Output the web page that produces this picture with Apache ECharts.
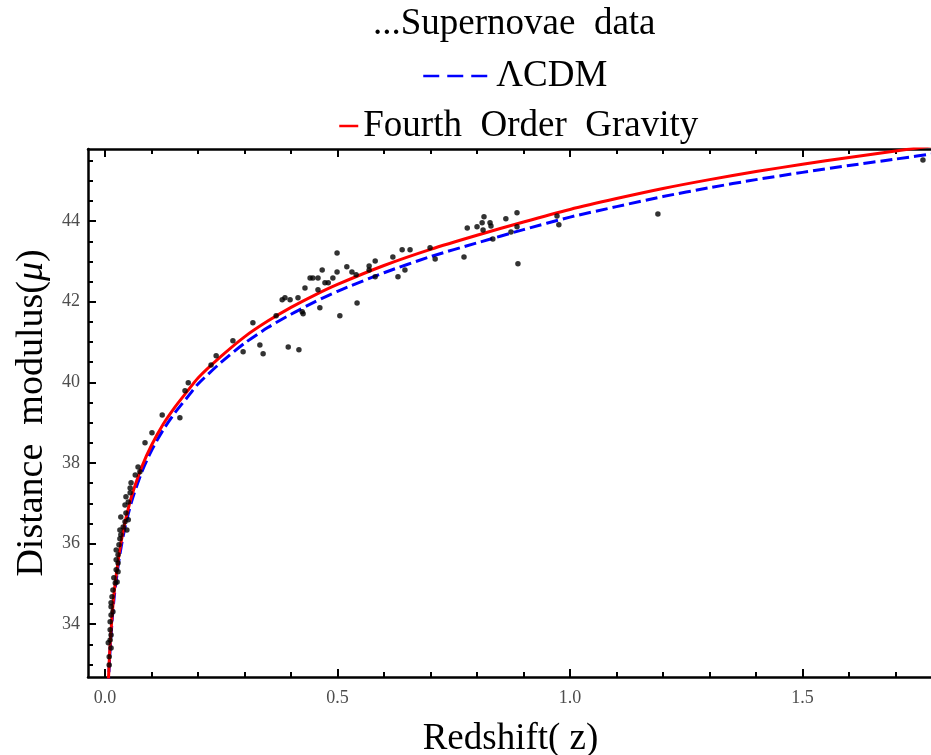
<!DOCTYPE html>
<html><head><meta charset="utf-8">
<script src="https://cdn.jsdelivr.net/npm/echarts@6/dist/echarts.min.js"></script>
<style>html,body{margin:0;padding:0;background:#fff}#c{width:931px;height:755px}</style>
</head><body><div id="c"></div>
<script>
// ---- data ----
const curveZ = [0.007,0.01,0.015,0.02,0.03,0.04,0.05,0.06,0.08,0.1,0.125,0.15,0.175,0.2,0.25,0.3,0.35,0.4,0.45,0.5,0.6,0.7,0.8,0.9,1.0,1.1,1.2,1.3,1.4,1.5,1.6,1.7,1.8];
const lcdmMu = [32.39,33.18,34.05,34.70,35.59,36.24,36.74,37.15,37.80,38.31,38.82,39.24,39.60,39.96,40.50,40.97,41.36,41.69,41.99,42.26,42.72,43.12,43.46,43.79,44.10,44.36,44.61,44.83,45.03,45.21,45.38,45.54,45.70];
const fogMu  = [32.52,33.31,34.18,34.83,35.72,36.37,36.87,37.28,37.93,38.44,38.96,39.38,39.75,40.11,40.65,41.13,41.52,41.86,42.16,42.43,42.90,43.30,43.65,43.98,44.29,44.56,44.81,45.03,45.23,45.41,45.58,45.74,45.90];
const snZ = [0.009,0.009,0.013,0.007,0.011,0.013,0.011,0.011,0.013,0.017,0.013,0.013,0.015,0.017,0.022,0.026,0.019,0.028,0.024,0.028,0.024,0.028,0.024,0.030,0.032,0.034,0.032,0.047,0.039,0.043,0.050,0.034,0.045,0.043,0.050,0.045,0.054,0.054,0.056,0.065,0.075,0.071,0.086,0.101,0.123,0.161,0.172,0.179,0.228,0.239,0.275,0.297,0.318,0.333,0.340,0.368,0.381,0.387,0.398,0.394,0.417,0.415,0.424,0.426,0.430,0.441,0.447,0.458,0.458,0.462,0.467,0.473,0.480,0.490,0.499,0.499,0.505,0.520,0.531,0.540,0.542,0.568,0.568,0.581,0.581,0.619,0.630,0.639,0.645,0.656,0.699,0.710,0.772,0.779,0.800,0.811,0.815,0.813,0.828,0.830,0.834,0.862,0.873,0.886,0.886,0.888,0.972,0.976,1.189,1.759];
const snMu = [32.99,33.19,33.41,33.54,33.61,33.73,33.86,34.06,34.23,34.31,34.43,34.53,34.68,34.85,35.02,35.05,35.15,35.30,35.35,35.52,35.60,35.72,35.84,35.97,36.12,36.22,36.34,36.34,36.41,36.54,36.59,36.66,36.76,36.96,37.03,37.16,37.26,37.38,37.51,37.70,37.78,37.90,38.50,38.75,39.19,39.12,39.79,39.99,40.43,40.66,41.03,40.76,41.48,40.93,40.71,41.65,42.05,42.10,42.05,40.88,40.81,42.10,41.75,41.70,42.34,42.59,42.59,42.59,42.30,41.85,42.79,42.47,42.47,42.59,42.74,43.21,41.65,42.87,42.74,42.67,41.97,42.89,42.79,43.01,42.62,43.11,42.62,43.29,42.79,43.29,43.34,43.06,43.11,43.83,43.86,43.96,44.11,43.78,43.96,43.88,43.56,44.06,43.73,44.21,43.86,42.94,44.13,43.91,44.18,45.52];
const xTickLabels = [0, 0.5, 1.0, 1.5];
const yTickLabels = [34, 36, 38, 40, 42, 44];

// ---- build ----
const X_MIN = -0.0366, X_MAX = 1.7806, Y_MIN = 32.69, Y_MAX = 45.79;
const xMinor = []; for (let i = 0; i <= 17; i++) xMinor.push(+(i * 0.1).toFixed(1));
const yMinor = []; for (let v = 33; v <= 45.5; v += 0.5) yMinor.push(v);
const serif = 'Liberation Serif';
const lineCol = '#000';

function xAx(pos, ticks, len, withLabel, showLine) {
  return {
    type: 'value', position: pos, min: X_MIN, max: X_MAX,
    axisLine: { show: showLine, onZero: false, lineStyle: { color: lineCol, width: 2.5 } },
    axisTick: { show: true, inside: true, length: len, customValues: ticks, lineStyle: { color: lineCol, width: 2 } },
    axisLabel: withLabel ? { show: true, customValues: xTickLabels, formatter: v => v.toFixed(1), margin: 12, fontFamily: serif, fontSize: 18, color: '#4d4d4d' } : { show: false },
    splitLine: { show: false }
  };
}
function yAx(pos, ticks, len, withLabel, showLine) {
  return {
    type: 'value', position: pos, min: Y_MIN, max: Y_MAX,
    axisLine: { show: showLine, onZero: false, lineStyle: { color: lineCol, width: 2.5 } },
    axisTick: { show: true, inside: true, length: len, customValues: ticks, lineStyle: { color: lineCol, width: 2 } },
    axisLabel: withLabel ? { show: true, customValues: yTickLabels, margin: 8, fontFamily: serif, fontSize: 18, color: '#4d4d4d' } : { show: false },
    splitLine: { show: false }
  };
}

const nameFont = { fontFamily: serif, fontSize: 38, color: '#000' };
const xMain = xAx('bottom', xTickLabels, 8, true, true);
xMain.name = 'Redshift( z)'; xMain.nameLocation = 'middle'; xMain.nameGap = 44;
xMain.nameTextStyle = Object.assign({}, nameFont, { fontSize: 37 });
const yMain = yAx('left', yTickLabels, 8, true, true);
yMain.name = '{a|Distance  modulus(}{b|\u03BC}{a|)}'; yMain.nameLocation = 'middle'; yMain.nameGap = 36;
yMain.nameTextStyle = Object.assign({}, nameFont, { rich: { a: Object.assign({}, nameFont), b: Object.assign({}, nameFont, { fontStyle: 'italic' }) } });

const legendText = { fontFamily: serif, fontSize: 37, color: '#000', lineHeight: 42 };
const noSym = { color: 'rgba(0,0,0,0)', borderColor: 'rgba(0,0,0,0)', borderWidth: 0, opacity: 0 };

const option = {
  backgroundColor: '#fff',
  animation: false,
  grid: { left: 88, top: 149, width: 845, height: 528, containLabel: false, outerBoundsMode: 'none' },
  xAxis: [xMain, xAx('bottom', xMinor, 5, false, false), xAx('top', xTickLabels, 8, false, true), xAx('top', xMinor, 5, false, false)],
  yAxis: [yMain, yAx('left', yMinor, 5, false, false)],
  legend: [
    { data: ['Supernovae data'], left: 368, top: 3, padding: 0, icon: 'none', itemWidth: 0, itemHeight: 10,
      formatter: () => '...Supernovae  data', textStyle: legendText, selectedMode: false },
    { data: ['\u039BCDM'], left: 422, top: 55, padding: 0, itemWidth: 68, itemHeight: 14, itemStyle: noSym,
      lineStyle: { type: [16, 8], width: 2.5 }, textStyle: legendText, selectedMode: false },
    { data: ['Fourth Order Gravity'], left: 338, top: 105, padding: 0, itemWidth: 19, itemHeight: 14, itemStyle: noSym,
      lineStyle: { width: 2.5 }, formatter: () => 'Fourth  Order  Gravity', textStyle: legendText, selectedMode: false }
  ],
  series: [
    { name: '\u039BCDM', type: 'line', xAxisIndex: 0, yAxisIndex: 0, symbol: 'none', smooth: 0.25, clip: true,
      data: curveZ.map((z, i) => [z, lcdmMu[i]]), lineStyle: { color: '#0000ff', width: 3, type: [12, 5] }, itemStyle: { color: '#0000ff' }, z: 2 },
    { name: 'Fourth Order Gravity', type: 'line', xAxisIndex: 0, yAxisIndex: 0, symbol: 'none', smooth: 0.25, clip: true,
      data: curveZ.map((z, i) => [z, fogMu[i]]), lineStyle: { color: '#ff0000', width: 3 }, itemStyle: { color: '#ff0000' }, z: 3 },
    { name: 'Supernovae data', type: 'scatter', xAxisIndex: 0, yAxisIndex: 0, symbol: 'circle', symbolSize: 5.5,
      data: snZ.map((z, i) => [z, snMu[i]]), itemStyle: { color: '#000' }, z: 4 }
  ]
};
const chart = echarts.init(document.getElementById('c'), null, { renderer: 'canvas' });
chart.setOption(option);
</script></body></html>
